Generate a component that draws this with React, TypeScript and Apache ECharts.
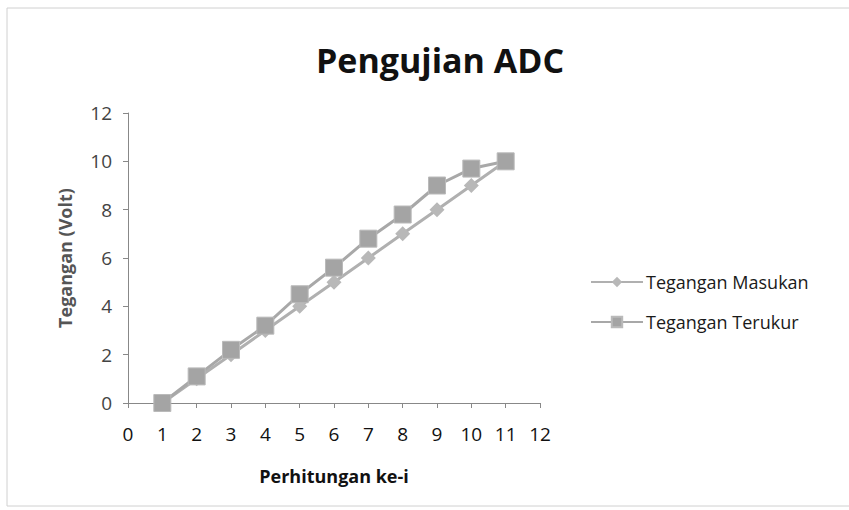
import React, { useEffect, useRef } from "react";
import * as echarts from "echarts";

// Perhitungan ke-i (x positions) and the two voltage series
const perhitungan = [1, 2, 3, 4, 5, 6, 7, 8, 9, 10, 11];
const teganganMasukan = [0, 1, 2, 3, 4, 5, 6, 7, 8, 9, 10];
const teganganTerukur = [0, 1.1, 2.2, 3.2, 4.5, 5.6, 6.8, 7.8, 9.0, 9.7, 10.0];

const FONT = "'Open Sans', 'Noto Sans', sans-serif";

export default function App() {
  const ref = useRef<HTMLDivElement>(null);

  useEffect(() => {
    if (!ref.current) return;
    const chart = echarts.init(ref.current, null, { renderer: "svg" });
    const pair = (ys: number[]) => perhitungan.map((x, i) => [x, ys[i]]);

    chart.setOption({
      animation: false,
      backgroundColor: "#ffffff",
      textStyle: { fontFamily: FONT },
      title: {
        text: "Pengujian ADC",
        left: 435,
        top: 38,
        textAlign: "center",
        textStyle: { fontFamily: FONT, fontSize: 34, fontWeight: "bold", color: "#111" },
      },
      graphic: [
        {
          type: "rect",
          shape: { x: 7, y: 8, width: 846, height: 498 },
          style: { fill: "none", stroke: "#d0d0d0", lineWidth: 1 },
          silent: true,
        },
      ],
      legend: {
        orient: "vertical",
        left: 585,
        top: 268,
        itemGap: 22,
        itemWidth: 52,
        itemHeight: 13,
        textStyle: { fontFamily: FONT, fontSize: 18, color: "#1a1a1a", padding: [0, 0, 0, -2] },
        data: ["Tegangan Masukan", "Tegangan Terukur"],
      },
      grid: { left: 128, right: 309, top: 113, bottom: 107 },
      xAxis: {
        type: "value",
        min: 0,
        max: 12,
        interval: 1,
        name: "Perhitungan ke-i",
        nameLocation: "middle",
        nameGap: 64,
        nameTextStyle: { fontFamily: FONT, fontSize: 18, fontWeight: "bold", color: "#111" },
        axisLine: { show: true, lineStyle: { color: "#888", width: 1 } },
        axisTick: { show: true, length: 5, lineStyle: { color: "#888" } },
        axisLabel: { fontFamily: FONT, fontSize: 19, color: "#111", margin: 21 },
        splitLine: { show: false },
      },
      yAxis: {
        type: "value",
        min: 0,
        max: 12,
        interval: 2,
        name: "Tegangan (Volt)",
        nameLocation: "middle",
        nameGap: 54,
        nameTextStyle: { fontFamily: FONT, fontSize: 18, fontWeight: "bold", color: "#555" },
        axisLine: { show: true, lineStyle: { color: "#888", width: 1 } },
        axisTick: { show: true, length: 5, lineStyle: { color: "#888" } },
        axisLabel: { fontFamily: FONT, fontSize: 19, color: "#444", margin: 16 },
        splitLine: { show: false },
      },
      series: [
        {
          name: "Tegangan Masukan",
          type: "line",
          data: pair(teganganMasukan),
          symbol: "diamond",
          symbolSize: 15,
          itemStyle: { color: "#b8b8b8" },
          lineStyle: { color: "#b0b0b0", width: 3 },
          z: 2,
        },
        {
          name: "Tegangan Terukur",
          type: "line",
          data: pair(teganganTerukur),
          symbol: "rect",
          symbolSize: 17,
          itemStyle: { color: "#a4a4a4", borderColor: "#bababa", borderWidth: 1 },
          lineStyle: { color: "#a8a8a8", width: 3 },
          z: 3,
        },
      ],
    });

    return () => chart.dispose();
  }, []);

  return (
    <div
      ref={ref}
      style={{ position: "fixed", left: 0, top: 0, width: 849, height: 510 }}
    />
  );
}
